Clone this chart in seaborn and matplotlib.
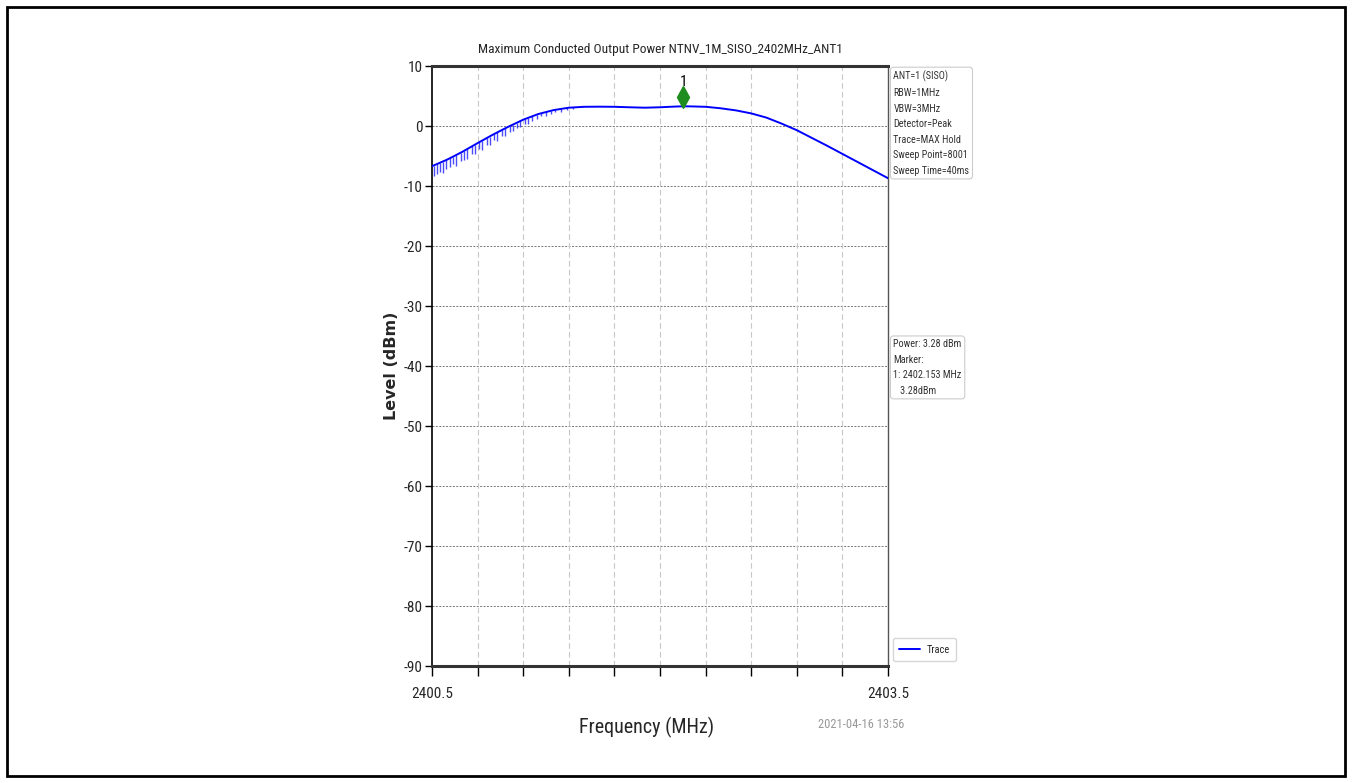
import numpy as np
import pandas as pd
import matplotlib
matplotlib.use("Agg")
import matplotlib.pyplot as plt
from matplotlib import font_manager
from matplotlib.patches import Rectangle
import seaborn as sns

# ---------------- data ----------------
env_freq = [2400.50, 2400.60, 2400.70, 2400.80, 2400.90, 2401.00, 2401.10, 2401.20,
            2401.30, 2401.40, 2401.50, 2401.60, 2401.70, 2401.80, 2401.90, 2402.00,
            2402.10, 2402.153, 2402.20, 2402.30, 2402.40, 2402.50, 2402.60, 2402.70,
            2402.80, 2402.90, 2403.00, 2403.10, 2403.20, 2403.30, 2403.40, 2403.50]
env_level = [-6.7, -5.6, -4.3, -2.85, -1.45, -0.15, 1.05, 2.0,
             2.65, 3.05, 3.2, 3.22, 3.2, 3.12, 3.05, 3.12,
             3.24, 3.28, 3.27, 3.2, 2.95, 2.6, 2.1, 1.4,
             0.4, -0.7, -2.0, -3.3, -4.65, -6.0, -7.35, -8.7]

spike_freq = [2400.51, 2400.53, 2400.55, 2400.57, 2400.59, 2400.62, 2400.64, 2400.66,
              2400.69, 2400.71, 2400.73, 2400.76, 2400.78, 2400.81, 2400.83, 2400.86,
              2400.88, 2400.91, 2400.93, 2400.96, 2400.98, 2401.01, 2401.03, 2401.06,
              2401.08, 2401.11, 2401.13, 2401.16, 2401.19, 2401.22, 2401.25, 2401.28,
              2401.31, 2401.35, 2401.39, 2401.43]
spike_top = [-6.6, -6.4, -6.15, -5.95, -5.7, -5.35, -5.1, -4.85,
             -4.45, -4.15, -3.85, -3.4, -3.15, -2.7, -2.45, -2.0,
             -1.75, -1.3, -1.05, -0.7, -0.4, -0.05, 0.2, 0.55,
             0.8, 1.15, 1.35, 1.6, 1.9, 2.15, 2.35, 2.55,
             2.7, 2.85, 3.0, 3.1]
spike_bottom = [-8.4, -8.0, -7.7, -7.9, -7.1, -6.9, -6.3, -6.6,
                -5.8, -5.6, -5.5, -4.6, -4.7, -3.9, -4.0, -3.2,
                -3.1, -2.4, -2.5, -1.6, -1.7, -1.0, -0.9, -0.3,
                -0.2, 0.4, 0.3, 0.9, 1.2, 1.6, 1.7, 2.0,
                2.3, 2.4, 2.7, 2.9]

marker_freq = [2402.153]
marker_plot_level = [4.8]
marker_labels = ["1"]

x_min, x_max = 2400.5, 2403.5
x_ticks = [2400.5, 2400.8, 2401.1, 2401.4, 2401.7, 2402.0, 2402.3, 2402.6, 2402.9, 2403.2, 2403.5]
x_ticklabels = ["2400.5", "", "", "", "", "", "", "", "", "", "2403.5"]
y_ticks = [10, 0, -10, -20, -30, -40, -50, -60, -70, -80, -90]

title_text = "Maximum Conducted Output Power NTNV_1M_SISO_2402MHz_ANT1"
info_text = "ANT=1 (SISO)\nRBW=1MHz\nVBW=3MHz\nDetector=Peak\nTrace=MAX Hold\nSweep Point=8001\nSweep Time=40ms"
power_text = "Power: 3.28 dBm\nMarker:\n1: 2402.153 MHz\n   3.28dBm"
date_text = "2021-04-16 13:56"

# ---------------- style ----------------
sns.set_style("ticks")
fl = font_manager.fontManager.ttflist
names = {f.name for f in fl}
narrow = None
for cand in ["Liberation Sans Narrow", "Arial Narrow", "Roboto Condensed", "Open Sans Condensed",
             "DejaVu Sans Condensed", "Noto Sans Condensed"]:
    if cand in names:
        narrow = cand
        break
stretch = "normal"
if narrow is None:
    for f in fl:
        if (isinstance(f.stretch, str) and "condensed" in f.stretch) or (isinstance(f.stretch, int) and f.stretch < 500):
            if "Mono" not in f.name and "Serif" not in f.name:
                narrow = f.name
                stretch = "condensed"
                break
is_narrow = narrow is not None
if narrow is None:
    narrow = "Liberation Sans" if "Liberation Sans" in names else "DejaVu Sans"
plt.rcParams["font.family"] = [narrow, "DejaVu Sans"]
plt.rcParams["font.stretch"] = stretch
k = 1.0 if is_narrow else 0.82  # size factor to approximate narrow text widths

fig = plt.figure(figsize=(13.52, 7.83), dpi=100)
ax = fig.add_axes([432 / 1352, 117 / 783, 456 / 1352, 600 / 783])

# outer frame
fig.patches.append(Rectangle((7 / 1352, 7 / 783), 1338 / 1352, 769 / 783, transform=fig.transFigure,
                             fill=False, edgecolor="black", linewidth=2))

df = pd.DataFrame({"Frequency": env_freq, "Level": env_level})
ax.vlines(spike_freq, spike_bottom, spike_top, colors="#0000ff", linewidth=1.0, alpha=0.7, zorder=3)
sns.lineplot(data=df, x="Frequency", y="Level", ax=ax, color="#0000ff", linewidth=1.4,
             label="Trace", zorder=4, estimator=None, sort=False)

ax.plot(marker_freq, marker_plot_level, marker="d", color="#1e8c1e", markersize=11,
        linestyle="none", zorder=5)
for f, lv, lab in zip(marker_freq, marker_plot_level, marker_labels):
    ax.text(f, lv + 1.3, lab, ha="center", va="bottom", fontsize=11 * k, color="black")

ax.set_xlim(x_min, x_max)
ax.set_ylim(-90, 10)
ax.set_xticks(x_ticks)
ax.set_xticklabels(x_ticklabels, fontsize=11 * k)
ax.set_yticks(y_ticks)
ax.set_yticklabels([str(v) for v in y_ticks], fontsize=11 * k)
ax.tick_params(axis="x", direction="out", length=7, width=1, color="black", pad=8)
ax.tick_params(axis="y", direction="out", length=5, width=1, color="black", pad=2)

# grids
for yv in y_ticks[1:-1]:
    ax.axhline(yv, color="#777777", linewidth=0.7, linestyle=(0, (2, 1.5)), zorder=1)
for xv in x_ticks[1:-1]:
    ax.axvline(xv, color="#c8c8c8", linewidth=0.8, linestyle=(0, (5, 3)), zorder=1)

for side in ["top", "bottom"]:
    ax.spines[side].set_linewidth(2.2)
    ax.spines[side].set_color("#333333")
ax.spines["left"].set_linewidth(1.2)
ax.spines["left"].set_color("black")
ax.spines["right"].set_linewidth(1.0)
ax.spines["right"].set_color("#555555")

ax.set_title(title_text, fontsize=9.6 * k, pad=9)
ax.set_xlabel("Frequency (MHz)", fontsize=14.5 * k)
ax.xaxis.set_label_coords(0.47, -0.085)
ax.set_ylabel("Level (dBm)", fontsize=11.5, fontfamily="DejaVu Sans", fontweight="bold")
ax.yaxis.set_label_coords(-0.072, 0.5)

box = dict(boxstyle="round,pad=0.3", facecolor="white", edgecolor="#cccccc", linewidth=0.8)
ax.text(1.012, 0.992, info_text, transform=ax.transAxes, ha="left", va="top",
        fontsize=7.3 * k, color="#333333", linespacing=1.7, bbox=box)
ax.text(1.012, 0.545, power_text, transform=ax.transAxes, ha="left", va="top",
        fontsize=7.3 * k, color="#333333", linespacing=1.7, bbox=box)

leg = ax.legend(loc="lower left", bbox_to_anchor=(1.0, 0.0), fontsize=7.5 * k, frameon=True,
                handlelength=2.0, borderpad=0.6, handletextpad=0.6)
leg.get_frame().set_edgecolor("#cccccc")

fig.text(818 / 1352, 1 - 724 / 783, date_text, fontsize=9 * k, color="#999999", ha="left", va="center")

fig.savefig("out.png", dpi=100)
